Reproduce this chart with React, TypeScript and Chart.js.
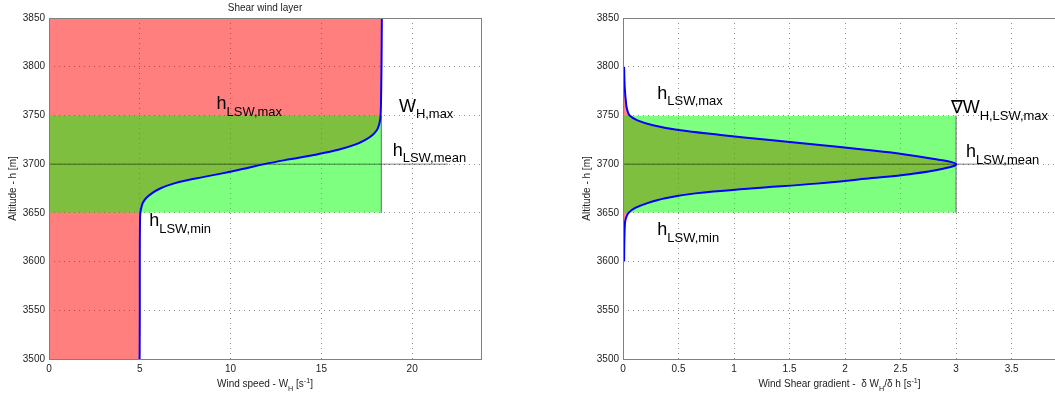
import React, { useEffect, useRef } from 'react';
import { Chart, registerables } from 'chart.js';

Chart.register(...registerables);

const FONT = '"Liberation Sans", Arial, Helvetica, sans-serif';

// ---------------- data ----------------
const altitudeTicks = [3500, 3550, 3600, 3650, 3700, 3750, 3800, 3850];
const speedTicks = [0, 5, 10, 15, 20];
const gradientTicks = [0, 0.5, 1, 1.5, 2, 2.5, 3, 3.5];

const layerMin = 3650;
const layerMean = 3700;
const layerMax = 3750;

const windSpeedMax = 18.3;
const gradientMax = 3;

const speedAltitudes = [
  3500, 3550, 3600, 3640, 3650, 3655, 3660, 3665, 3670, 3675, 3680, 3685, 3690, 3695, 3700,
  3705, 3710, 3715, 3720, 3725, 3730, 3735, 3740, 3745, 3750, 3760, 3800, 3850,
];
const windSpeed = [
  4.99, 5.0, 5.0, 5.01, 5.03, 5.08, 5.16, 5.34, 5.66, 6.12, 6.85, 8.0, 9.4, 10.65, 11.85,
  13.25, 14.75, 15.98, 16.85, 17.42, 17.82, 18.06, 18.17, 18.23, 18.26, 18.28, 18.31, 18.33,
];

const gradientAltitudes = [
  3600, 3620, 3640, 3645, 3650, 3655, 3660, 3665, 3670, 3675, 3680, 3685, 3690, 3695, 3700,
  3705, 3710, 3715, 3720, 3725, 3730, 3735, 3740, 3745, 3750, 3755, 3760, 3780, 3800,
];
const shearGradient = [
  0.01, 0.012, 0.018, 0.028, 0.05, 0.11, 0.22, 0.38, 0.65, 1.15, 1.74, 2.18, 2.6, 2.87, 3.0,
  2.82, 2.54, 2.16, 1.75, 1.3, 0.88, 0.5, 0.27, 0.13, 0.06, 0.04, 0.03, 0.015, 0.01,
];

// ---------------- helpers ----------------
type Seg = [string, number]; // 0 normal, 1 subscript, 2 superscript

function richText(ctx: CanvasRenderingContext2D, segs: Seg[], x: number, y: number, size: number, align: 'left' | 'center') {
  const small = size * 0.72;
  const widths: number[] = [];
  let total = 0;
  segs.forEach(([t, k]) => {
    ctx.font = `${k ? small : size}px ${FONT}`;
    const w = ctx.measureText(t).width;
    widths.push(w);
    total += w;
  });
  let cx = align === 'center' ? x - total / 2 : x;
  ctx.textAlign = 'left';
  ctx.textBaseline = 'alphabetic';
  segs.forEach(([t, k], i) => {
    ctx.font = `${k ? small : size}px ${FONT}`;
    const dy = k === 1 ? size * 0.367 : k === 2 ? -size * 0.42 : 0;
    ctx.fillText(t, cx, y + dy);
    cx += widths[i];
  });
}

interface Label { segs: Seg[]; x: number; y: number }
interface PanelSpec {
  alts: number[];
  vals: number[];
  peak: number;
  xTicks: number[];
  title?: string;
  xTitle: Seg[];
  labels: Label[];
  padLeft: number;
  padRight: number;
  yTitlePad: number;
}

function decorPlugin(spec: PanelSpec) {
  return {
    id: 'decor',
    afterDatasetsDraw(chart: any) {
      const { ctx, chartArea: a, scales } = chart;
      ctx.save();
      ctx.strokeStyle = '#808080';
      ctx.lineWidth = 1;
      ctx.strokeRect(Math.round(a.left) + 0.5, Math.round(a.top) + 0.5, Math.round(a.right - a.left), Math.round(a.bottom - a.top));
      ctx.fillStyle = '#000';
      spec.labels.forEach((l) => {
        richText(ctx, l.segs, scales.x.getPixelForValue(l.x), scales.y.getPixelForValue(l.y), 18, 'left');
      });
      ctx.fillStyle = '#222';
      richText(ctx, spec.xTitle, (a.left + a.right) / 2, 387, 10, 'center');
      if (spec.title) {
        ctx.font = `10px ${FONT}`;
        ctx.textAlign = 'center';
        ctx.textBaseline = 'alphabetic';
        ctx.fillText(spec.title, (a.left + a.right) / 2, 10.5);
      }
      ctx.restore();
    },
  };
}

function buildConfig(spec: PanelSpec): any {
  const pts = spec.alts.map((h, i) => ({ x: spec.vals[i], y: h }));
  const tickFont = { family: FONT, size: 10 };
  const gridOpts = { color: 'rgba(0,0,0,0.45)', lineWidth: 1, drawTicks: false };
  return {
    type: 'line',
    data: {
      datasets: [
        {
          data: pts,
          borderWidth: 0,
          borderColor: 'rgba(0,0,0,0)',
          backgroundColor: 'rgba(255,0,0,0.5)',
          fill: 'origin',
          pointRadius: 0,
          tension: 0.4,
          order: 4,
        },
        {
          data: [
            { x: spec.peak, y: layerMin },
            { x: spec.peak, y: layerMax },
          ],
          borderWidth: 1,
          borderColor: '#6a6a6a',
          backgroundColor: 'rgba(0,255,0,0.5)',
          fill: 'origin',
          pointRadius: 0,
          order: 3,
        },
        {
          data: [
            { x: 0, y: layerMean },
            { x: 1.2 * spec.peak, y: layerMean },
          ],
          borderWidth: 1,
          borderColor: 'rgba(0,0,0,0.5)',
          fill: false,
          pointRadius: 0,
          order: 2,
        },
        {
          data: pts,
          borderWidth: 2,
          borderColor: '#0000ff',
          fill: false,
          pointRadius: 0,
          tension: 0.4,
          order: 1,
        },
      ],
    },
    options: {
      indexAxis: 'y',
      animation: false,
      responsive: false,
      events: [],
      layout: { padding: { left: spec.padLeft, right: spec.padRight, top: 18, bottom: 0 } },
      plugins: { legend: { display: false }, tooltip: { enabled: false }, title: { display: false } },
      scales: {
        x: {
          type: 'linear',
          position: 'bottom',
          min: 0,
          max: 1.3 * spec.peak,
          afterBuildTicks: (s: any) => {
            s.ticks = spec.xTicks.map((v) => ({ value: v }));
          },
          afterFit: (s: any) => {
            s.height = 37;
          },
          ticks: { font: tickFont, color: '#222', padding: 4, maxRotation: 0, autoSkip: false, callback: (v: any) => String(v) },
          grid: gridOpts,
          border: { display: false, dash: [1, 4] },
        },
        y: {
          type: 'linear',
          position: 'left',
          min: 3500,
          max: 3850,
          afterBuildTicks: (s: any) => {
            s.ticks = altitudeTicks.map((v) => ({ value: v }));
          },
          afterFit: (s: any) => {
            s.width = 49;
          },
          ticks: { font: tickFont, color: '#222', padding: 4, autoSkip: false, callback: (v: any) => String(v) },
          grid: gridOpts,
          border: { display: false, dash: [1, 4] },
          title: {
            display: true,
            text: 'Altitude - h [m]',
            font: { family: FONT, size: 10 },
            color: '#222',
            padding: { top: spec.yTitlePad, bottom: 0 },
          },
        },
      },
    },
    plugins: [decorPlugin(spec)],
  };
}

const leftSpec: PanelSpec = {
  alts: speedAltitudes,
  vals: windSpeed,
  peak: windSpeedMax,
  xTicks: speedTicks,
  title: 'Shear wind layer',
  xTitle: [['Wind speed - W', 0], ['H', 1], [' [s', 0], ['-1', 2], [']', 0]],
  labels: [
    { segs: [['h', 0], ['LSW,max', 1]], x: 9.23, y: 3756.3 },
    { segs: [['W', 0], ['H,max', 1]], x: 19.27, y: 3753.8 },
    { segs: [['h', 0], ['LSW,mean', 1]], x: 18.93, y: 3708.7 },
    { segs: [['h', 0], ['LSW,min', 1]], x: 5.52, y: 3636.5 },
  ],
  padLeft: 0,
  padRight: 46,
  yTitlePad: 7,
};

const rightSpec: PanelSpec = {
  alts: gradientAltitudes,
  vals: shearGradient,
  peak: gradientMax,
  xTicks: gradientTicks,
  xTitle: [['Wind Shear gradient -  \u03b4 W', 0], ['H', 1], ['/\u03b4 h [s', 0], ['-1', 2], [']', 0]],
  labels: [
    { segs: [['h', 0], ['LSW,max', 1]], x: 0.309, y: 3767.2 },
    { segs: [['\u2207W', 0], ['H,LSW,max', 1]], x: 2.951, y: 3752.2 },
    { segs: [['h', 0], ['LSW,mean', 1]], x: 3.089, y: 3707 },
    { segs: [['h', 0], ['LSW,min', 1]], x: 0.309, y: 3627 },
  ],
  padLeft: 47,
  padRight: 1,
  yTitlePad: 7.5,
};

function Panel({ spec, left, width }: { spec: PanelSpec; left: number; width: number }) {
  const ref = useRef<HTMLCanvasElement>(null);
  useEffect(() => {
    if (!ref.current) return;
    const chart = new Chart(ref.current, buildConfig(spec));
    return () => chart.destroy();
  }, [spec]);
  return (
    <canvas
      ref={ref}
      width={width}
      height={396}
      style={{ position: 'absolute', left, top: 0, width, height: 396, display: 'block' }}
    />
  );
}

export default function App() {
  return (
    <div
      style={{
        position: 'fixed',
        left: 0,
        top: 0,
        width: 1055,
        height: 396,
        overflow: 'hidden',
        background: '#fff',
      }}
    >
      <Panel spec={leftSpec} left={0} width={527} />
      <Panel spec={rightSpec} left={527} width={530} />
    </div>
  );
}
